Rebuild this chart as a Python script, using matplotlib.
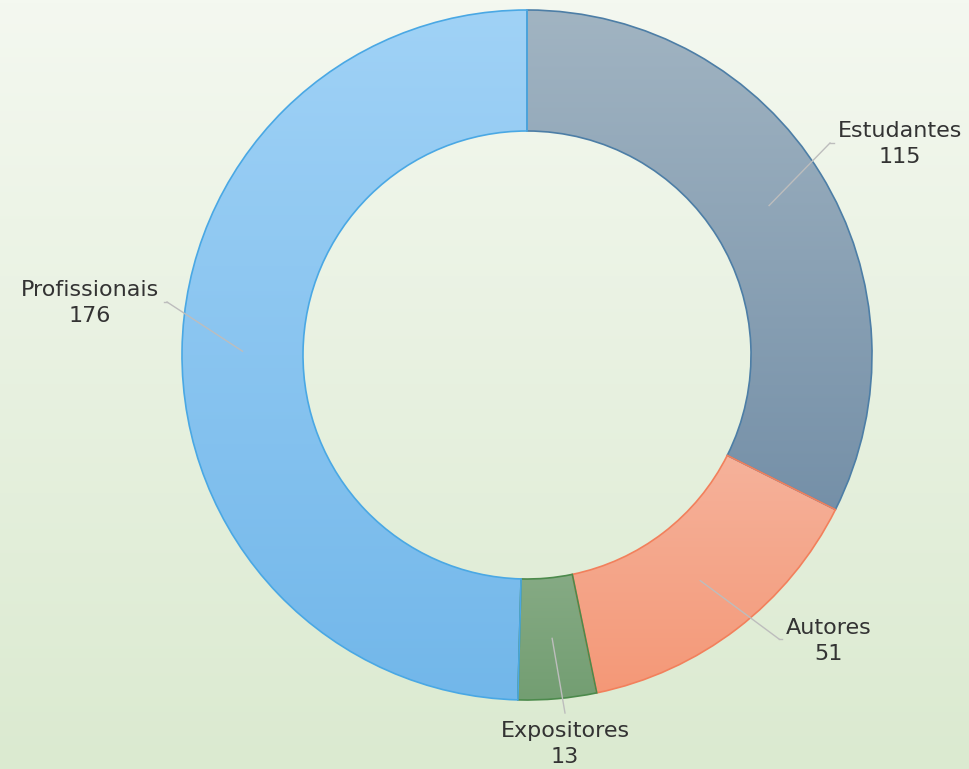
import numpy as np
import matplotlib
matplotlib.use("Agg")
import matplotlib.pyplot as plt
from matplotlib.colors import LinearSegmentedColormap

# === Data ===
labels = ["Estudantes", "Autores", "Expositores", "Profissionais"]
values = [115, 51, 13, 176]

# gradient colours (top, bottom) and edge colour for each slice
top_colors = ["#a1b4c2", "#f6bdaa", "#a6c0a4", "#a0d2f6"]
bottom_colors = ["#7590a8", "#f49877", "#739e72", "#72b7ea"]
edge_colors = ["#4d7ea6", "#f2805c", "#4c8a4c", "#4aa8e4"]

# label positions (pixels) and elbow points of the leader lines
label_pos = [(900, 144), (829, 641), (565, 744), (90, 303)]
elbow_pos = [(830, 143), (779, 639), (565, 713), (167, 302)]

W, H = 969, 769
cx, cy = 527, H - 355
R_OUT, WIDTH = 345, 121

fig = plt.figure(figsize=(W / 100, H / 100), dpi=100)
ax = fig.add_axes([0, 0, 1, 1])

# === Background gradient ===
bg = LinearSegmentedColormap.from_list("bg", ["#f4f8f0", "#dbead0"])
ax.imshow(np.linspace(0, 1, 256).reshape(-1, 1), cmap=bg, aspect="auto",
          extent=(0, W, 0, H), origin="upper", zorder=0)

# === Donut ===
wedges, _ = ax.pie(values, startangle=90, counterclock=False,
                   radius=R_OUT, center=(cx, cy),
                   wedgeprops=dict(width=WIDTH, facecolor="none", linewidth=1.2))

for i, w in enumerate(wedges):
    w.set_edgecolor(edge_colors[i])
    w.set_zorder(3)
    verts = w.get_patch_transform().transform(w.get_path().vertices)
    x0, x1 = verts[:, 0].min(), verts[:, 0].max()
    y0, y1 = verts[:, 1].min(), verts[:, 1].max()
    cmap = LinearSegmentedColormap.from_list("g%d" % i, [top_colors[i], bottom_colors[i]])
    im = ax.imshow(np.linspace(0, 1, 256).reshape(-1, 1), cmap=cmap, aspect="auto",
                   extent=(x0, x1, y0, y1), origin="upper", zorder=2)
    im.set_clip_path(w)

# === Leader lines and labels ===
total = sum(values)
r_mid = R_OUT - WIDTH / 2
cum = 0
for i, v in enumerate(values):
    mid = 90 - (cum + v / 2) / total * 360
    cum += v
    sx = cx + r_mid * np.cos(np.radians(mid))
    sy = cy + r_mid * np.sin(np.radians(mid))
    ex, ey = elbow_pos[i]
    ey = H - ey
    ax.plot([sx, ex], [sy, ey], color="#bdbdbd", lw=1.0, zorder=4)
    if i == 0:
        ax.plot([ex, ex + 4], [ey, ey], color="#bdbdbd", lw=1.0, zorder=4)
    elif i == 1:
        ax.plot([ex, ex + 3], [ey, ey], color="#bdbdbd", lw=1.0, zorder=4)
    elif i == 3:
        ax.plot([ex, ex - 3], [ey, ey], color="#bdbdbd", lw=1.0, zorder=4)
    lx, ly = label_pos[i]
    ax.text(lx, H - ly, f"{labels[i]}\n{v}", ha="center", va="center",
            fontsize=16, family="DejaVu Sans", color="#333333",
            linespacing=1.4, zorder=5)

ax.set_xlim(0, W)
ax.set_ylim(0, H)
ax.set_aspect("equal")
ax.axis("off")

fig.savefig("out.png", dpi=100)
